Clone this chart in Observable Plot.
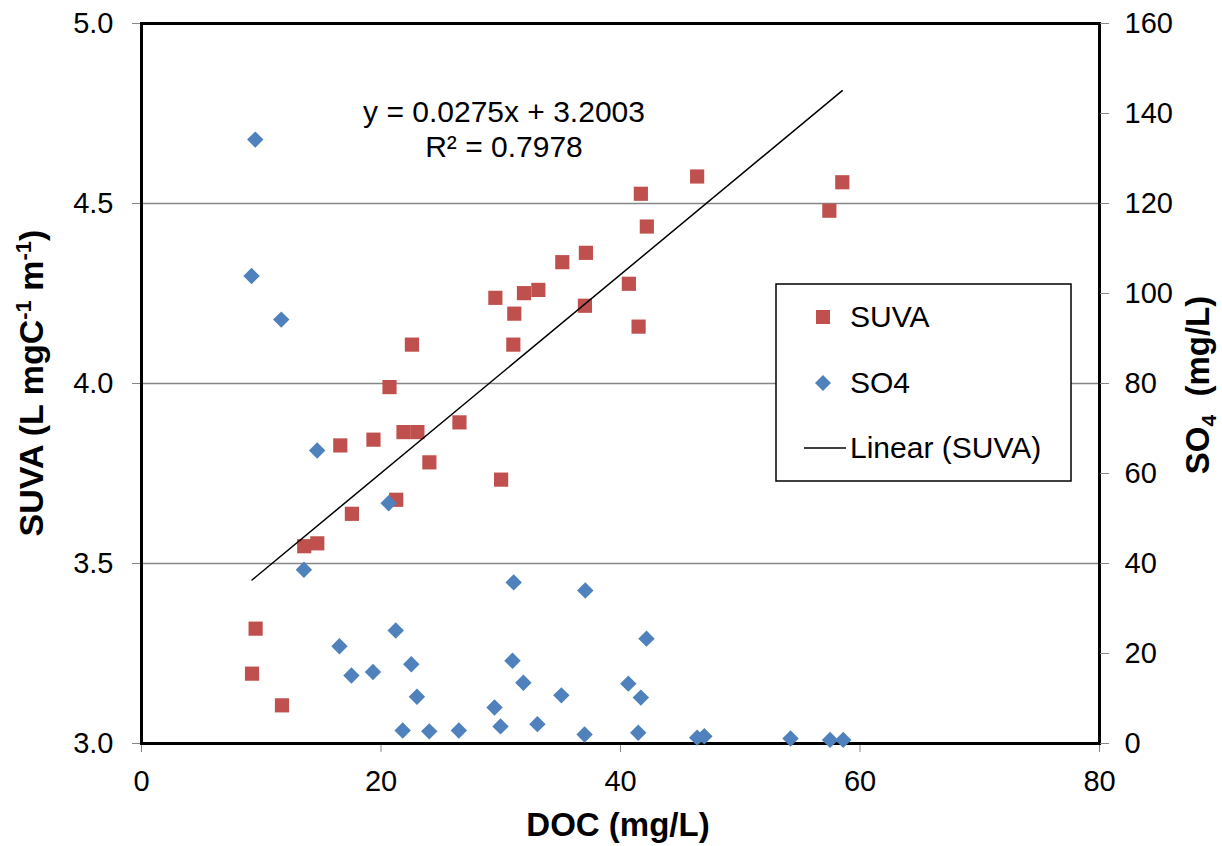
<!DOCTYPE html>
<html><head><meta charset="utf-8">
<script src="https://cdn.jsdelivr.net/npm/d3@7"></script>
<script src="https://cdn.jsdelivr.net/npm/@observablehq/plot@0.6"></script>
<style>
body{margin:0;background:#fff;}
#chart{position:relative;width:1222px;height:846px;font-family:"Liberation Sans",Arial,sans-serif;}
#chart svg{position:absolute;left:0;top:0;overflow:visible;}
</style></head><body><div id="chart"></div>
<script>
// SUVA series (left axis)
const docSuva = [9.23, 9.53, 11.73, 13.59, 14.68, 16.60, 17.57, 19.37, 20.71, 21.27, 21.88, 22.58, 23.04, 24.04, 26.55, 29.55, 30.03, 31.13, 31.05, 31.94, 33.14, 35.14, 37.11, 37.03, 40.70, 41.70, 41.51, 42.20, 46.40, 57.44, 58.52];
const suva = [3.194, 3.319, 3.106, 3.548, 3.556, 3.828, 3.638, 3.844, 3.990, 3.677, 3.865, 4.108, 3.865, 3.781, 3.892, 4.238, 3.733, 4.194, 4.108, 4.251, 4.260, 4.337, 4.363, 4.216, 4.277, 4.527, 4.158, 4.436, 4.575, 4.480, 4.559];
// SO4 series (right axis)
const docSo4 = [9.50, 9.19, 11.67, 14.67, 20.64, 13.56, 31.08, 37.06, 21.23, 16.53, 17.53, 19.33, 22.53, 30.98, 31.89, 23.00, 35.06, 29.48, 29.98, 33.06, 21.81, 24.03, 26.50, 37.00, 42.17, 40.65, 41.70, 41.48, 46.40, 47.00, 54.20, 57.50, 58.60];
const so4 = [134.2, 103.9, 94.2, 65.1, 53.4, 38.6, 35.8, 34.0, 25.1, 21.6, 15.1, 15.9, 17.6, 18.4, 13.5, 10.4, 10.7, 8.0, 3.8, 4.3, 2.9, 2.7, 2.9, 2.0, 23.3, 13.3, 10.2, 2.4, 1.3, 1.6, 1.1, 0.8, 0.8];
// Ticks and labels
const xTicks = [0, 20, 40, 60, 80];
const suvaTicks = [3.0, 3.5, 4.0, 4.5, 5.0];
const suvaGrid = [3.5, 4.0, 4.5];
const so4Ticks = [0, 20, 40, 60, 80, 100, 120, 140, 160];
const equationLines = ["y = 0.0275x + 3.2003", "R² = 0.7978"];
const legendLabels = ["SUVA", "SO4", "Linear (SUVA)"];

const RED = "#C0504D", BLUE = "#4F81BD", GRID = "#868686";
const FONT = '"Liberation Sans", Arial, sans-serif';
const W = 1222, H = 846;
const M = {left: 141, right: 123, top: 23, bottom: 103};

const suvaData = docSuva.map((d, i) => ({doc: d, suva: suva[i]}));
const so4Data = docSo4.map((d, i) => ({doc: d, so4: so4[i]}));

const common = {
  width: W, height: H,
  marginLeft: M.left, marginRight: M.right, marginTop: M.top, marginBottom: M.bottom,
  style: {fontFamily: FONT, fontSize: "29px", background: "transparent", color: "black"}
};

const plotA = Plot.plot({
  ...common,
  x: {domain: [0, 80]},
  y: {domain: [3, 5]},
  marks: [
    Plot.gridY(suvaGrid, {stroke: GRID, strokeOpacity: 1, strokeWidth: 1.5}),
    Plot.dot(suvaData, {x: "doc", y: "suva", symbol: "square", r: 8, fill: RED}),
    Plot.linearRegressionY(suvaData, {x: "doc", y: "suva", ci: 0, stroke: "black", strokeWidth: 1.5}),
    Plot.axisY({ticks: suvaTicks, tickFormat: d3.format(".1f"), tickSize: 9, tickPadding: 19, stroke: GRID, fill: "black", label: null, fontSize: 29}),
    Plot.axisX({ticks: xTicks, tickSize: 9, tickPadding: 18, stroke: GRID, fill: "black", label: null, fontSize: 29}),
    Plot.frame({stroke: "black", strokeWidth: 3})
  ]
});

const plotB = Plot.plot({
  ...common,
  x: {domain: [0, 80], axis: null},
  y: {domain: [0, 160]},
  marks: [
    Plot.axisY({anchor: "right", ticks: so4Ticks, tickSize: 9, tickPadding: 16, stroke: GRID, fill: "black", label: null, fontSize: 29}),
    Plot.dot(so4Data, {x: "doc", y: "so4", symbol: "diamond2", r: 7.4, fill: BLUE})
  ]
});

const chart = document.getElementById("chart");
chart.appendChild(plotA);
chart.appendChild(plotB);

// Annotation layer: titles, equation, legend
const ann = d3.select(chart).append("svg")
  .attr("width", W).attr("height", H)
  .style("font-family", FONT);

// Equation
ann.selectAll("text.eq").data(equationLines).join("text")
  .attr("class", "eq")
  .attr("x", 504).attr("y", (d, i) => 121.5 + i * 35)
  .attr("text-anchor", "middle").attr("font-size", 30).attr("fill", "black")
  .text(d => d);

// X title
ann.append("text").attr("x", 618).attr("y", 836)
  .attr("text-anchor", "middle").attr("font-size", 33).attr("font-weight", "bold")
  .text("DOC (mg/L)");

// Left title with superscripts
const lt = ann.append("text").attr("transform", "translate(43,383) rotate(-90)")
  .attr("text-anchor", "middle").attr("font-size", 34).attr("font-weight", "bold");
lt.append("tspan").text("SUVA (L mgC");
lt.append("tspan").attr("font-size", 22).attr("dy", -12).text("-1");
lt.append("tspan").attr("dy", 12).text(" m");
lt.append("tspan").attr("font-size", 22).attr("dy", -12).text("-1");
lt.append("tspan").attr("dy", 12).text(")");

// Right title with subscript
const rt = ann.append("text").attr("transform", "translate(1209,385) rotate(-90)")
  .attr("text-anchor", "middle").attr("font-size", 33).attr("font-weight", "bold")
  .attr("xml:space", "preserve").style("white-space", "pre");
rt.append("tspan").text("SO");
rt.append("tspan").attr("font-size", 21).attr("dy", 7).text("4");
rt.append("tspan").attr("dy", -7).text("  (mg/L)");

// Legend
const lg = ann.append("g");
lg.append("rect").attr("x", 776).attr("y", 284).attr("width", 295).attr("height", 197)
  .attr("fill", "white").attr("stroke", "black").attr("stroke-width", 1.5);
lg.append("rect").attr("x", 816).attr("y", 310).attr("width", 14).attr("height", 14).attr("fill", RED);
lg.append("path").attr("d", "M823,375L831,383L823,391L815,383Z").attr("fill", BLUE);
lg.append("line").attr("x1", 804).attr("x2", 846).attr("y1", 448).attr("y2", 448)
  .attr("stroke", "black").attr("stroke-width", 1.5);
lg.selectAll("text").data(legendLabels).join("text")
  .attr("x", 850).attr("y", (d, i) => 327 + i * 65.5)
  .attr("font-size", 30).attr("fill", "black").text(d => d);
</script></body></html>
